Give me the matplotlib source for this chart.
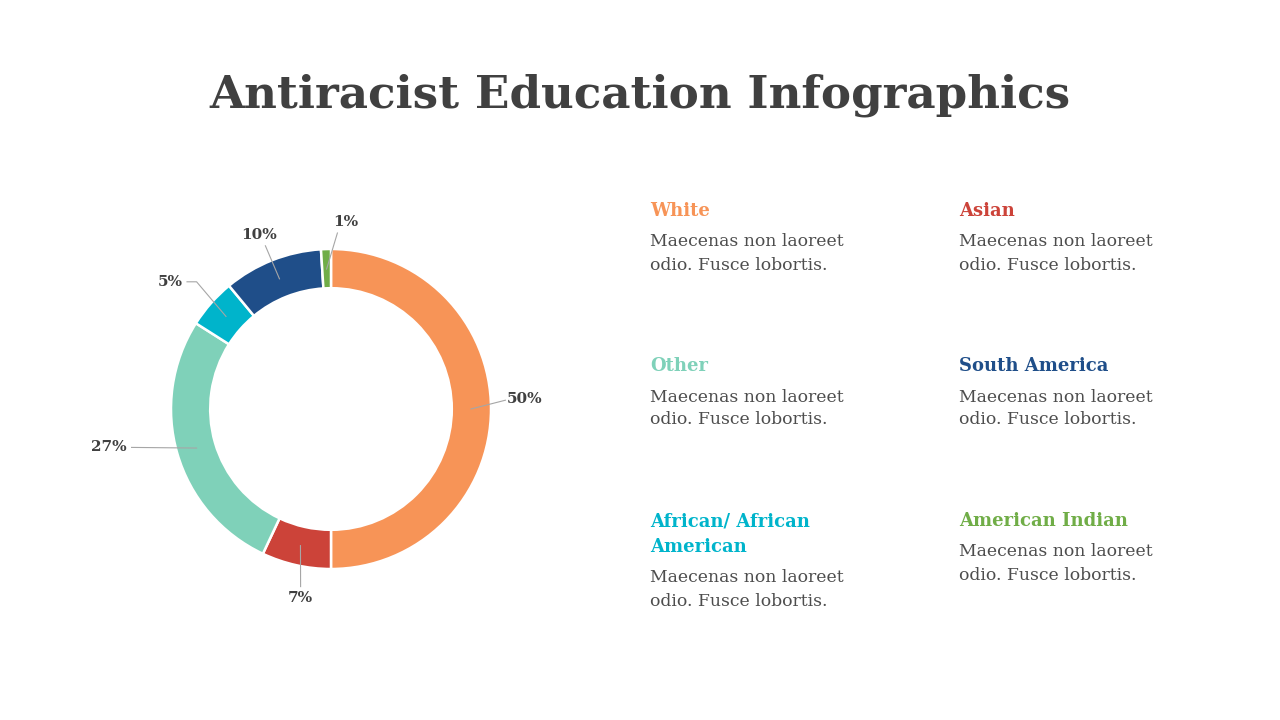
import matplotlib
matplotlib.use("Agg")
import matplotlib.pyplot as plt
import numpy as np

# ---- data ----
categories = ["White", "Asian", "Other", "African/ African\nAmerican", "South America", "American Indian"]
values = [50, 7, 27, 5, 10, 1]
pct_labels = ["50%", "7%", "27%", "5%", "10%", "1%"]
colors = ["#F79457", "#CC4339", "#7FD1B9", "#00B4CB", "#1F4E89", "#70AD47"]
body_text = "Maecenas non laoreet\nodio. Fusce lobortis."
title = "Antiracist Education Infographics"

W, H = 1280, 720
fig = plt.figure(figsize=(W / 100, H / 100), dpi=100)
fig.patch.set_facecolor("white")

SERIF = ["DejaVu Serif"]
DARK = "#404040"
BODY = "#4d4d4d"

fig.text(640 / W, 1 - 95 / H, title, ha="center", va="center",
         fontsize=32.6, fontweight="bold", color=DARK, family=SERIF)

# ---- donut ----
cx, cy, R = 331, 409, 156.5
half = 200
ax = fig.add_axes([(cx - half) / W, 1 - (cy + half) / H, 2 * half / W, 2 * half / H])
lim = half / R
ax.set_xlim(-lim, lim)
ax.set_ylim(-lim, lim)
ax.set_aspect("equal")
ax.axis("off")

wedges, _ = ax.pie(values, colors=colors, startangle=90, counterclock=False,
                   radius=1.0, wedgeprops=dict(width=0.245, edgecolor="white", linewidth=1.8))

mid_r = 0.875
# label placement (style): (label x, label y, ha, elbow points)
placements = [
    dict(xy=(1.10, 0.063), ha="left", path=[(1.09, 0.055)]),
    dict(xy=(-0.19, -1.18), ha="center", path=[(-0.19, -1.11)]),
    dict(xy=(-1.275, -0.24), ha="right", path=[(-1.25, -0.24)]),
    dict(xy=(-0.925, 0.795), ha="right", path=[(-0.84, 0.795), (-0.90, 0.795)]),
    dict(xy=(-0.45, 1.09), ha="center", path=[(-0.41, 1.02)]),
    dict(xy=(0.095, 1.17), ha="center", path=[(0.04, 1.10)]),
]
for w, lab, pl in zip(wedges, pct_labels, placements):
    ang = np.deg2rad((w.theta1 + w.theta2) / 2)
    sx, sy = mid_r * np.cos(ang), mid_r * np.sin(ang)
    pts = [(sx, sy)] + pl["path"]
    xs, ys = zip(*pts)
    ax.plot(xs, ys, color="#a6a6a6", lw=0.8, zorder=5)
    ax.text(pl["xy"][0], pl["xy"][1], lab, ha=pl["ha"], va="center",
            fontsize=11, fontweight="bold", color=DARK, family=SERIF)

# ---- legend blocks (column, row) per category ----
slots = [(0, 0), (1, 0), (0, 1), (0, 2), (1, 1), (1, 2)]
col_x = [650, 959]
row_y = [211, 366, 521]
for cat, col, (c, r) in zip(categories, colors, slots):
    x, y = col_x[c], row_y[r]
    lines = cat.split("\n")
    for j, ln in enumerate(lines):
        fig.text(x / W, 1 - (y + j * 26) / H, ln, ha="left", va="center",
                 fontsize=13, fontweight="bold", color=col, family=SERIF)
    by = y + 31 + (len(lines) - 1) * 26
    for j, ln in enumerate(body_text.split("\n")):
        fig.text(x / W, 1 - (by + j * 23) / H, ln, ha="left", va="center",
                 fontsize=12.4, color=BODY, family=SERIF)

fig.savefig("out.png", dpi=100, facecolor="white")
